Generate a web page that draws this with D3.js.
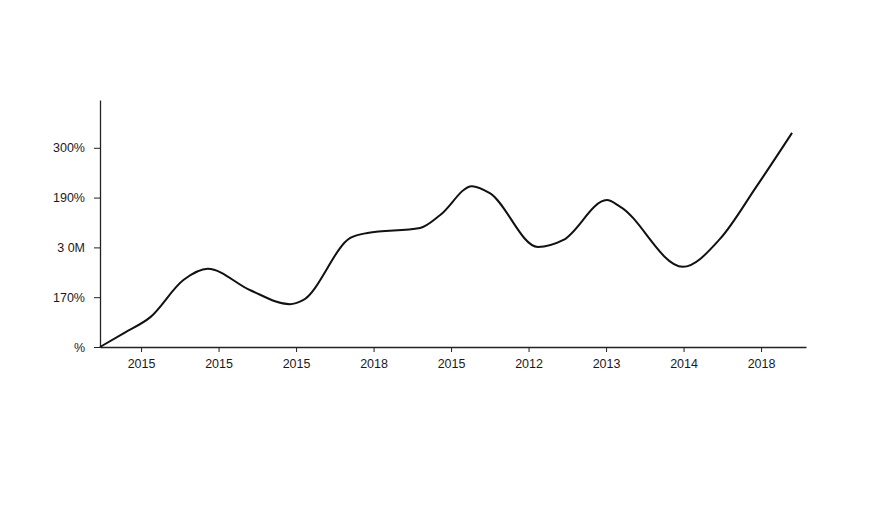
<!DOCTYPE html>
<html>
<head>
<meta charset="utf-8">
<script src="https://cdn.jsdelivr.net/npm/d3@7"></script>
<style>
  html, body { margin: 0; padding: 0; background: #ffffff; }
  svg { display: block; }
  text { font-family: "Liberation Sans", Arial, sans-serif; fill: #1a1a1a; }
</style>
</head>
<body>
<svg id="chart" width="896" height="512"></svg>
<script>
// Category tick labels along the x axis (as printed)
const xTickLabels = ["2015", "2015", "2015", "2018", "2015", "2012", "2013", "2014", "2018"];
// Y tick labels (as printed), bottom to top
const yTickLabels = ["%", "170%", "3 0M", "190%", "300%"];
const yTickValues = [0, 1, 2, 3, 4];
// Series: position in category units (x) and value in tick units (y)
const seriesX = [-0.53, -0.21, 0.12, 0.55, 0.86, 1.41, 1.92, 2.09, 2.70, 2.92, 3.60, 3.86, 4.27, 4.50, 5.12, 5.45, 6.01, 6.18, 6.99, 7.47, 7.94, 8.40];
const seriesY = [0.00, 0.29, 0.60, 1.35, 1.57, 1.14, 0.86, 0.94, 2.19, 2.29, 2.39, 2.65, 3.23, 3.09, 2.01, 2.15, 2.95, 2.82, 1.61, 2.17, 3.22, 4.30];

(function () {
const svg = d3.select("#chart");
const mLeft = 100, mRight = 806, mBottom = 347, mTop = 100;

const x = d3.scaleLinear().domain([-0.53, 8.58]).range([mLeft, mRight]);
const y = d3.scaleLinear().domain([0, 4.96]).range([mBottom, mTop]);

// X axis
const xAxis = d3.axisBottom(x)
  .tickValues(d3.range(xTickLabels.length))
  .tickFormat((d, i) => xTickLabels[i])
  .tickSize(5)
  .tickSizeOuter(0)
  .tickPadding(7);
const gx = svg.append("g").attr("transform", `translate(0,${mBottom})`).call(xAxis);
gx.select(".domain").attr("stroke", "#222").attr("stroke-width", 1.3);
gx.selectAll(".tick line").attr("stroke", "#222");
gx.selectAll("text").attr("font-size", 12.5).attr("fill", "#1a1a1a");

// Y axis
const yAxis = d3.axisLeft(y)
  .tickValues(yTickValues)
  .tickFormat((d, i) => yTickLabels[i])
  .tickSize(6)
  .tickSizeOuter(0)
  .tickPadding(9);
const gy = svg.append("g").attr("transform", `translate(${mLeft},0)`).call(yAxis);
gy.select(".domain").attr("stroke", "#222").attr("stroke-width", 1.3);
gy.selectAll(".tick line").attr("stroke", "#222");
gy.selectAll("text").attr("font-size", 12.5).attr("fill", "#1a1a1a");

// Line
const pts = seriesX.map((v, i) => [v, seriesY[i]]);
const line = d3.line()
  .x(d => x(d[0]))
  .y(d => y(d[1]))
  .curve(d3.curveMonotoneX);
svg.append("path")
  .datum(pts)
  .attr("d", line)
  .attr("fill", "none")
  .attr("stroke", "#111")
  .attr("stroke-width", 2)
  .attr("stroke-linejoin", "round");
})();
</script>
</body>
</html>
